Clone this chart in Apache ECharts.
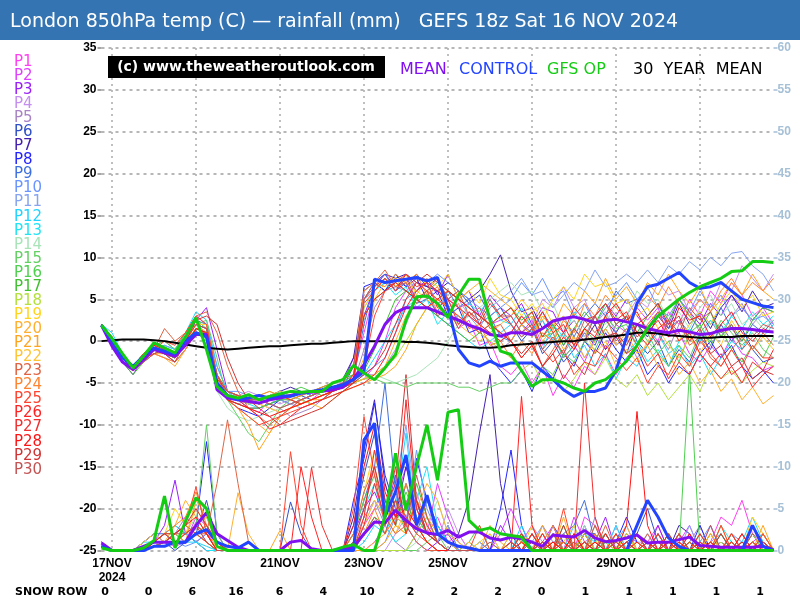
<!DOCTYPE html>
<html><head><meta charset="utf-8">
<script src="https://cdn.jsdelivr.net/npm/echarts@6/dist/echarts.min.js"></script>
<style>html,body{margin:0;padding:0;background:#fff}#c{width:800px;height:600px}</style>
</head><body><div id="c"></div>
<script>
// ---- data (6-hourly steps from 16 NOV 18z to 2 DEC 18z) ----
const titleText = 'London 850hPa temp (C) \u2014 rainfall (mm)   GEFS 18z Sat 16 NOV 2024';
const tickLabels = {1:'17NOV\n2024', 9:'19NOV', 17:'21NOV', 25:'23NOV', 33:'25NOV', 41:'27NOV', 49:'29NOV', 57:'1DEC'};
const stepCount = 65;
const snowRow = [0,0,6,16,6,4,10,2,2,2,0,1,1,1,1,1];
const memberNames = ['P1','P2','P3','P4','P5','P6','P7','P8','P9','P10','P11','P12','P13','P14','P15','P16','P17','P18','P19','P20','P21','P22','P23','P24','P25','P26','P27','P28','P29','P30'];
const memberColors = ['#ff40f0','#e040ff','#9a20f8','#c490f0','#a884c4','#3050c8','#4420b0','#2424ff','#4070e0','#6a94ff','#86a4f0','#20d4ff','#20e4f4','#a8e4b8','#64d064','#50d050','#40c030','#b4e040','#ffd420','#ffb030','#ffa420','#ffc434','#e06444','#ff8430','#ff4430','#ff2424','#f03030','#ff1414','#d03434','#c45454'];

const t01=[2,0.5,-2,-3,-1.5,-0.5,-1,-2,0,2,1.5,-5,-7, -7.5,-8,-8.5,-7,-6.5,-7,-7.5,-7,-6,-5.5,-5,-4,1, 6,7.5,6,7,5,6,3.5,4,1.5,2.5,-0.5,0,-3, -4,-2.5,-5,-3,-6.5,-4,-5.5,-3,-4,-1.5,-4,-2,-0.5, 1.5,0,3.5,2,5,3,6,4.5,7,5.5,3,4,2];
const t02=[2,0,-2.5,-3.5,-2.5,-1,-0.5,-1,1,3,2,-3,-6, -7,-7,-7.5,-8,-8.5,-8,-7,-6.5,-6,-6,-5.5,-5,-4.5, -3,0,4,6,7,6.5,6,5,4,4.5,3,2,2.5, 3,1,2.5,-0.5,1,-2,-0.5,-2.5,0.5,-1,2,1,4, 2.5,4,0.5,1,-1.5,-2.5,-0.5,-2,0.5,-1.5,-2,-3.5,-3];
const t03=[2,-0.5,-2.5,-4,-2,-1,-1.5,-2,-0.5,2.5,4,-1,-6, -7,-8,-8,-7.5,-7,-6.5,-6,-6.5,-6,-5.5,-5,-2,3, 6.5,8,6.5,7.5,6,7.5,5.5,8,5,6,3,5.5,4, 3,4.5,2,4,3.5,1,2.5,0.5,3,4.5,3,5,3, 1.5,3.5,2,5,3.5,2,4.5,3,5.5,4,2.5,4,3.5];
const t04=[2,0,-2,-3,-2.5,-1.5,-2,-2.5,-1,1,0,-5,-6.5, -6.5,-6,-6.5,-7,-7.5,-7,-6.5,-6,-5.5,-5,-5,-4.5,-4, -4,-3,-1,2,5,6,7,6,5,3,2,1,0, 1,3,2,5,4,6.5,4,5,2,3.5,1,3,5, 4,7,5.5,6,3.5,5,4,7,6,9,7.5,6,8];
const t05=[2,0.5,-1.5,-3,-2,-0.5,0,-1,0.5,2,1,-4.5,-7, -7.5,-7,-7,-7.5,-8,-9,-8.5,-8,-7,-6,-5.5,-5,-1, 4,6,6.5,6,5,4,3,2,3,2,1,0,-1, 0,2,0.5,2.5,0,-1.5,0.5,-2,0,1.5,-0.5,0.5,-2, -0.5,1,-1,2,3.5,1,2.5,0.5,3,4.5,2,3.5,1.5];
const t06=[2,0,-2,-3.5,-2,-1,-1.5,-2.5,-1,1,0.5,-5,-6, -6.5,-7,-7.5,-7,-6.5,-6,-6.5,-7,-6.5,-6,-5.5,-3,5, 7,6,8,6.5,8,6.5,7.5,5,6,4.5,5.5,3,4, 2,0,1.5,-1.5,0,-2.5,-1,1,-0.5,2.5,1,3,0, -1.5,0,-3,-1,-2.5,0.5,-1,2,0,1.5,-1,-2.5,-2];
const t07=[2,0,-2,-3,-2,-1,-1.5,-2,-0.5,1.5,1,-4,-6.5, -7,-7.5,-7,-6.5,-6,-5.5,-6,-6.5,-6,-5,-4.5,-2,6, 7,8,7.5,8,7,6.5,6,7,6,5,6,8,10.3, 6,3.5,4,1.5,2,-0.5,1.5,0,2,-1,0.5,-1.5,2, 0.5,3,1.5,4.5,2,3.5,1.5,4,5.5,3.5,6,4,4.5];
const t08=[2,-0.5,-2.5,-3.5,-2.5,-1,-1.5,-2,0,2,1.5,-5.5,-7, -8,-8.5,-9,-8,-7,-7.5,-7,-6.5,-6,-6,-5.5,-5,6.5, 7,6,7.5,6.5,7.5,5,6,3,4,1,1.5,-2,-3.5, -5,-3.5,-6,-3,-4.5,-1.5,-3,0,-1.5,1,-1,-2.5,-1, -4,-2.5,-5,-3,-4,-1.5,0,-2,-0.5,-3,-4.5,-3.5,-5];
const t09=[2,0,-2,-3,-1.5,-0.5,-1,-1.5,0.5,2.5,2,-4,-6, -6.5,-7,-7,-6.5,-6,-6.5,-7,-7.5,-7,-6,-5,-4.5,2, 7,8,6,7,4.5,5,3.5,6,4,5,2,3,0.5, 0,2,1,3.5,1.5,3,0.5,3,4.5,3,6,4.5,5, 3,4.5,1.5,2.5,1,3.5,2,4,1.5,0,2,1,2.5];
const t10=[2,0.5,-2,-3.5,-2,-1,-1,-2,0,1.5,1,-5,-6, -6,-6.5,-7,-7.5,-8,-7.5,-7,-6.5,-6,-5.5,-5,-4.5,-4, -3,-2,1,5,6,7,8,7,6,5,4,3,4, 5,7,5.5,7.5,5,6,3,4.5,2,4,5.5,7,5, 6.5,4,3,5,3.5,6,4,5.5,3,4,2.5,3,2];
const t11=[2,0,-2,-3,-2,-1,-1.5,-2.5,-1,1,1,-5,-6.5, -7,-7.5,-7,-6.5,-7,-7.5,-8,-7.5,-7,-6,-5.5,-5,5, 6,7.5,6.5,8,6,7,4.5,5,2.5,3,1.5,4,5, 6,7.5,5.5,6,4,5.5,7,6,8.5,6.5,7,8,7, 8.5,7,9,8,9.5,8.5,10,9,10.5,10.7,9,8,6];
const t12=[2,1,-1.5,-3,-2,-1,-0.5,-1,1,3.5,2.5,-3,-6, -6.5,-7,-7.5,-7,-6,-6.5,-7,-7.5,-7,-6.5,-6,-5,-4, -2,0,2,4,5,4,3,2,1,0,-1,0,1, 2,4,1.5,2.5,0,1,-2,-0.5,-3,-1.5,-4.5,-2,-3, -0.5,1,-1.5,-0.5,-3,-1.5,-4,-2,0,-1,1.5,0.5,2];
const t13=[2,0,-2,-3.5,-2.5,-1.5,-1,-1.5,0,2,1.5,-4.5,-6, -7,-7.5,-8,-7.5,-7,-6.5,-6,-6.5,-6,-5.5,-5,-4,4, 6,7,5.5,6.5,4,5,2,3.5,2,4.5,3.5,5,2.5, 2,0.5,1.5,-1,2,0.5,3.5,1.5,3,0.5,1,-1.5,0, -2.5,-1,-3,0,1.5,0,2.5,1,3,1.5,3.5,2,3];
const t14=[2,0,-2,-3,-1.5,-0.5,-1,-2,-0.5,1,0,-6,-8, -9,-9.5,-9,-8.5,-8,-7.5,-7,-6.5,-6,-5.5,-5,-5,-4.5, -4,-4.5,-5,-4.5,-4,-3,-2,0,2,3,4,5,6, 7,5.5,6,3.5,4.5,1.5,2.5,0.5,3,2,4.5,3,6, 4.5,5,2.5,3.5,1.5,4,5.5,3,4.5,2,3,1.5,2.5];
const t15=[2,0,-2,-3.5,-2,-1,-1.5,-2,0,2,2.5,-2,-7, -9,-11,-12,-10,-8,-7,-7.5,-7,-6.5,-6,-5.5,-5,-4.5, -4.5,-5,-5,-5.5,-5,-5,-5,-5,-5.5,-5.5,-6,-5.5,-5, -5,-3.5,-5.5,-3,-4,-1.5,-2.5,0,-1,1.5,3,1,2, 0,-1.5,-3,-0.5,-2,1,0,2.5,1,-0.5,1,-1,-2];
const t16=[2,0.5,-1.5,-3,-1.5,-0.5,0,-1,1,2.5,1.5,-4,-6, -6.5,-7,-7.5,-7,-6.5,-6,-5.5,-6,-6.5,-6,-5,-4,3, 5,6,7,6,5,6,7,6,5,4,3,2,3, 4,2,3,0.5,1,-2,-0.5,1.5,0,3,1.5,2,-0.5, 1,-1.5,0,-2.5,1,2,-0.5,1.5,-1,-2.5,-0.5,-2,0.5];
const t17=[2,0,-2.5,-4,-2.5,-1,-1.5,-2,-0.5,1.5,1,-5,-7, -7.5,-8,-8,-7.5,-7,-7,-6.5,-6,-5.5,-5,-4.5,-4,-3.5, -1,2,5,6,5,4,3,2,1,0,1,2,3, 4,2.5,3.5,0.5,2,-0.5,1.5,3.5,2,4.5,2,3,1, 3,4.5,2.5,5,3,1.5,3.5,0.5,2,0,2.5,4,3.5];
const t18=[2,0,-2,-3,-2,-1,-1,-1.5,0,1.5,1,-5,-6.5, -7,-7,-6.5,-6,-6.5,-7,-7.5,-7,-6.5,-6,-5.5,-5,-4.5, -4,-3,-2,0,2,4,5,4,3,2,1,0,-1, -2,-3.5,-2.5,-5,-4,-6,-4.5,-2.5,-4,-2,-4.5,-5.5,-4, -6.5,-5,-7,-5.5,-4,-6,-3,-4.5,-3.5,-5,-3.5,-2.5,-3];
const t19=[2,0.5,-2,-3,-1.5,-0.5,-1,-2,0,2,2,-4,-6, -6.5,-7,-7.5,-8,-8.5,-8,-7.5,-7,-6.5,-6,-5.5,-4,4, 6,7.5,6.5,8,5.5,7.5,6.5,8,5,6,4.5,7.5,5.5, 5,3,4.5,2.5,5,6.5,5,8,6.5,7,4.5,5,3, 4,1.5,2.5,0,2,3.5,2,4.5,6,4,5.5,3,3.5];
const t20=[2,0,-2.5,-3.5,-2,-1.5,-2,-3,-1,1,0.5,-5,-7, -8,-9,-10,-11,-9,-8,-7.5,-7,-6.5,-6,-5.5,-5,-4.5, -4,-3,0,3,5,6,5,4,5,6,7,6,5, 4,2,3,0,1.5,-1,0.5,-2,0,1.5,-0.5,1,-1.5, -0.5,-3,-1.5,-4,-2.5,-5,-3.5,-6,-4.5,-7,-5.5,-7.5,-6.5];
const t21=[2,0,-2,-3,-2,-1.5,-1.5,-2,-0.5,1,0.5,-5.5,-7, -8,-10,-13,-11,-9,-8,-7.5,-7,-7,-6.5,-6,-5.5,-5, -4.5,-4,-3,-1,2,4,5,6,5,4,3,2,1, 0,2,0.5,3,1.5,4.5,3,6,4.5,7.5,5,6.5,4.5, 7,5.5,8,6,4.5,6.5,3.5,5,7,5.5,8,6,5];
const t22=[2,0.5,-1.5,-3,-2,-1,-1,-1.5,0,2,1,-4.5,-6.5, -7,-7.5,-7,-6.5,-6,-6.5,-7,-7.5,-8,-7,-6,-5,-2, 5,7,7.5,7,6,5,4,3,2,1,0,1,2, 3,5,3.5,4.5,2,3,0,1.5,-1.5,0,-3,-1,-2.5, 0,1.5,-0.5,-2,0.5,-1.5,1,-0.5,2.5,0.5,-1,0.5,-1];
const t23=[2,0,-2,-3.5,-2,-1,1.5,0,1,3,3.5,1,-3, -6,-8,-9,-10,-9,-8,-7,-6.5,-6,-5.5,-5,-4.5,5, 7,8.5,6.5,7,4.5,6,7.5,5,6,3,4,1.5,2, 0,-2,-0.5,-3,-1,1,-0.5,2.5,1,3,0,1.5,-0.5, 2,3.5,1,2.5,-0.5,0.5,-2,-3,-1,0.5,-1,1,-0.5];
const t24=[2,0,-2.5,-3.5,-2.5,-1.5,-2,-2.5,-1,1,1,-5,-6, -6.5,-7,-6.5,-6,-6.5,-7,-6.5,-6,-5.5,-5,-4.5,-3,6, 7,6.5,8,7,8,5.5,6.5,3.5,4.5,1.5,2,-0.5,0, -2,0,-1.5,1,0,2.5,1,4.5,3,5.5,4,2.5,4, 5.5,4,6.5,4.5,3,5,3.5,6,7.5,5.5,7,6,7.5];
const t25=[2,0.5,-2,-3,-2,-1,0,-0.5,1,3,2,-4,-7, -8,-9,-10,-9.5,-9,-8.5,-8,-7.5,-7,-6,-5.5,-5,-3, 3,6,7,8,7,6,5,4,3,2,1,2,3, 2,0.5,1.5,-1,-2.5,-1,-4,-2.5,-3,-0.5,-2,-3.5,-2, -5,-3,-4,-1.5,-3,0,-1.5,-3,-1,-3,-0.5,-2,-2];
const t26=[2,0,-2,-3.5,-2,-1,-1,-2,-0.5,1.5,1,-5,-6.5, -7,-8,-9,-10.5,-10,-9,-8,-7.5,-7,-6.5,-6,-5.5,-5, -4,-2,1,4,6,7,6,5,4,3,2,1,0, 1,3,1.5,3.5,1,2,-0.5,1.5,3,4.5,2.5,3.5,1, -0.5,1.5,2.5,0,1,-1.5,-3,-1.5,-4,-3,-5.5,-4,-3];
const t27=[2,0,-2.5,-3.5,-2,-1.5,-1,-2,0,2,1.5,-4.5,-6, -6.5,-7,-7.5,-7,-6.5,-7,-7.5,-7,-6.5,-6,-5.5,-5,4.5, 6,7.5,6,8,6.5,7,4,5,2,3.5,2,4.5,3, 4,2,3.5,0.5,2.5,1,4,2.5,3,0.5,1,-1.5,-0.5, -3,-1.5,-4.5,-2.5,-4,-1.5,-3,-4.5,-3,-5,-2.5,-3.5,-1];
const t28=[2,0,-2,-3,-1.5,-0.5,-1,-2,-0.5,1.5,1,-5,-7, -7.5,-8,-8.5,-9,-8.5,-8,-7.5,-7,-6.5,-6,-5.5,-4,3, 5,6,7,6,5,4,5,6,5,4,3,2,1, 0,-2,-0.5,-3,-1.5,0.5,-1,1.5,0.5,3,4.5,2.5,3.5, 1,2.5,0.5,4,2.5,3,0.5,2,3.5,1,0,1.5,1];
const t29=[2,0,-2,-3,-2,-1,-1.5,-2.5,0,2.5,3,2,-2, -5,-7,-8,-9,-10,-9.5,-9,-8.5,-8,-7,-6,-5,-4, -3,-1,2,5,7,8,7,6,5,4,3,2,1, 0,-1.5,0,-3,-1.5,-4.5,-2.5,-4,-1,-2,1,-0.5,2, 3,4.5,2,3,0,1.5,-1.5,-0.5,-3,-2,-4.5,-3.5,-4];
const t30=[2,0,-2,-3.5,-2.5,-1.5,-1,-2,-0.5,1,1,-4,-6, -6.5,-7,-7,-7.5,-8,-7.5,-7,-6.5,-6,-5.5,-5,-3,5, 6.5,7.5,6,7.5,5,6,3,4,1.5,3.5,2.5,5,3, 3,1,2,-1,0.5,-1.5,1.5,0,3,4.5,2,3,0.5, 1.5,-0.5,2.5,1,4,2.5,3.5,1,2,-1,0.5,2,1.5];

const r01=[1,0,0,0,0.5,1,2,1,2,3,2,0.5,0, 0,0,0,0,0,0,0,0,0,0,0,1,3, 5,8,4,6,3,2,4,1,2,0,0,1,0, 0,1,3,0,2,1,0,4,3,1,0,2,0, 1,3,0,0,2,0,1,4,3,6,2,0,0];
const r02=[0.5,0,0,0,1,2,1,0.5,1,4,3,1,0, 0,0,0,0,0,0,0,0,0,0,0,0,0, 1,3,6,10,5,2,8,4,1,0,0,0,2, 5,2,0,1,3,0,4,1,0,2,0,2,0, 0,2,0,1,3,0,1,0,2,0,1,2,0];
const r03=[1,0,0,0,0,1,3,8.4,2,1,2,0,0, 0,0,0,0,0,0,0,0,0,0,0,2,5, 7,4,9,3,1,0,1,2,0,0,0,0,3, 1,0,2,0,2,0,1,0,1,4,0,2,1, 0,3,0,1,0,2,0,1,0,1,0,2,0];
const r04=[0.5,0,0,0,0,0.5,1,2,3,2,1,0,0, 0,0,0,0,0,0,0,0,0,0,0,0,0, 0,0,2,4,7,3,1,5,2,0,0,0,0, 0,1,3,1,0,2,0,1,2,0,3,0,1, 1,0,2,0,1,0,3,0,1,0,0,1,0];
const r05=[1,0,0,0,0.5,1,1,2,4,3,1,0,0, 0,0,0,0,0,0,0,0,0,0,0,1,4, 6,3,1,0,2,4,1,0,0,1,0,0,0, 0,2,0,3,1,0,2,0,4,0,2,0,1, 0,2,0,0,1,3,0,1,0,2,0,1,0];
const r06=[0.5,0,0,0,1,2,1,0,1,2,6,1,0, 0,0,0,0,0,5.8,2,0,0,0,0,3,9, 14,6,3,8,4,2,1,3,0,0,0,0,0, 0,0,2,0,1,1,0,3,0,2,0,1,2, 5,1,0,2,0,1,0,0,2,0,1,0,0];
const r07=[0.5,0,0,0,0,1,2,3,2,1,0,0,0, 0,0,0,0,0,0,0,0,0,0,0,4,12, 18,8,4,10,6,2,1,0,2,6,14,21,8, 2,0,1,0,3,1,0,2,0,1,1,0,2, 0,1,0,3,2,0,1,0,1,0,2,0,0];
const r08=[0.5,0,0,0,0,0.5,1,1,2,3,13,2,0, 0,0,0,0,0,0,0,0,0,0,0,6,11, 17.6,9,5,3,11,6,3,1,0,0,0,0,5, 12,3,0,2,0,1,0,2,2,0,1,4,1, 0,2,0,1,0,3,0,1,0,0,3,1,0];
const r09=[1,0,0,0,1,2,2,1,1,2,3,1,0, 0,0,0,0,0,0,0,0,0,0,0,2,6, 10,20,7,4,2,6,3,1,0,0,1,0,0, 0,2,0,1,0,2,3,6,1,0,2,0,1, 0,0,2,0,1,0,2,0,1,0,2,0,0];
const r10=[0.5,0,0,0,0,1,2,1,0.5,1,2,0,0, 0,0,0,0,0,0,0,0,0,0,0,0,0, 0,1,4,3,12,5,2,1,0,0,0,0,0, 0,2,1,0,3,0,1,0,2,0,1,3,0, 1,0,2,0,0,1,3,0,2,1,0,1,0];
const r11=[1,0,0,0,0,0.5,1,2,1,3,4,1,0, 0,0,0,0,0,0,0,0,0,0,0,0,3, 6,4,8,15,5,2,1,3,0,0,0,2,0, 0,1,1,3,0,2,0,1,0,2,0,1,0, 2,0,1,0,3,0,1,2,0,1,0,0,0];
const r12=[0.5,0,0,0,0,1,1,2,1,1,0.5,0,0, 0,0,0,0,0,0,0,0,0,0,0,0,1, 3,2,5,14,3,1,0,0,0,1,0,0,0, 0,3,0,1,0,2,0,2,1,0,3,0,1, 0,1,0,2,0,1,0,2,0,1,4,1,0];
const r13=[0.5,0,0,0,1,1,2,3,2,1,0,0,0, 0,0,0,0,0,0,0,0,0,0,0,1,5, 8,3,1,2,6,10,3,1,0,0,0,1,0, 1,0,2,0,1,0,3,0,1,0,2,0,1, 0,2,0,1,0,2,0,3,1,0,1,0,0];
const r14=[1,0,0,0,0,0.5,1,1,2,4,2,0,0, 0,0,0,0,0,0,0,0,0,0,0,0,0, 0,0,0,0,1,3,6,2,1,0,0,0,0, 2,1,0,2,0,1,0,3,0,1,0,2,0, 1,0,2,0,1,0,1,0,2,0,1,0,0];
const r15=[0.5,0,0,0,0,1,2,1,1,3,15,2,0, 0,0,0,0,0,0,0,0,0,0,0,0,0, 0,0,0,0,0,1,2,0,0,0,0,0,0, 0,1,0,0,2,0,1,0,1,2,0,1,0, 0,1,0,2,0,0,1,0,1,0,0,1,0];
const r16=[0.5,0,0,0,0,0.5,1,2,1,2,3,1,0, 0,0,0,0,0,0,0,0,0,0,0,2,6, 9,5,3,7,4,2,1,0,0,1,3,0,0, 0,1,1,0,2,0,1,0,2,0,1,0,2, 0,1,0,0,21.4,0,2,0,1,0,1,0,0];
const r17=[1,0,0,0,0,1,1,2,3,2,1,0,0, 0,0,0,0,0,0,0,0,0,0,0,1,2, 4,3,6,2,8,4,1,0,0,0,0,0,0, 0,2,0,1,0,3,0,2,0,1,0,2,0, 1,0,2,0,1,0,0,2,0,1,0,2,0];
const r18=[0.5,0,0,0,0,0.5,1,1,2,3,2,0,0, 0,0,0,0,0,0,0,0,0,0,0,0,0, 0,0,0,0,2,4,1,0,0,0,0,0,0, 0,1,0,2,0,0,1,0,3,0,1,0,2, 0,1,0,1,0,2,0,1,0,0,2,0,0];
const r19=[0.5,0,0,0,0,1,2,5,3,2,1,0,0, 0,0,0,0,0,0,0,0,0,0,0,2,7, 12,5,3,2,6,3,1,0,0,0,1,2,0, 1,0,3,0,1,0,2,0,1,1,0,2,0, 1,0,2,0,1,0,2,0,1,0,4,2,0];
const r20=[1,0,0,0,0,0.5,1,3,6,4,2,0,0, 6.9,2,0,0,0,0,0,0,0,0,0,0,0, 1,2,4,3,5,8,6,2,1,0,0,3,1, 0,2,0,1,0,4,0,1,0,2,0,3,0, 1,0,0,2,0,1,0,3,0,1,0,2,0];
const r21=[0.5,0,0,0,0,1,2,2,1,6,4,1,0, 0,0,0,0,2.4,0,0,0,0,0,0,0,0, 0,1,3,2,6,4,2,1,0,0,0,0,0, 2,1,0,3,0,1,0,2,0,0,2,0,1, 0,2,0,1,0,0,2,0,1,0,0,3,0];
const r22=[0.5,0,0,0,1,2,1,1,2,5,3,0,0, 0,0,0,0,0,0,0,0,0,0,0,1,3, 6,4,2,5,3,1,0,0,0,1,0,0,0, 0,1,0,2,0,1,3,0,1,0,2,0,1, 0,1,0,2,0,0,1,0,2,0,1,0,0];
const r23=[0.5,0,0,0,0,1,1,2,3,2,2,8,15.6, 8,1,0,0,0,0,0,0,0,0,0,2,7, 10,4,2,3,1,0,0,0,0,0,0,1,0, 0,2,0,1,0,2,0,1,0,3,0,1,0, 2,0,1,0,2,0,1,0,0,2,0,1,0];
const r24=[1,0,0,0,0,1,2,3,4,7,3,1,0, 0,0,0,0,0,0,0,0,0,0,0,0,2, 5,2,4,8,3,1,0,0,0,0,0,0,0, 1,0,2,0,3,0,1,0,2,0,1,0,2, 0,1,0,2,0,1,0,0,2,0,1,0,0];
const r25=[0.5,0,0,0,0,1,1,2,3,7.6,2,1,0, 0,0,0,0,0,11.8,3,0,0,0,0,5,16, 9,3,6,4,2,1,0,0,0,0,3,0,0, 0,1,0,2,0,5,0,1,0,2,0,1,0, 1,0,2,0,0,1,0,3,0,1,0,2,0];
const r26=[0.5,0,0,0,0,0.5,1,1,2,3,2,0,0, 0,0,0,0,0,0,10,4,0,0,0,0,4, 12,6,3,18,5,2,1,0,0,0,0,0,0, 0,18.4,3,0,1,0,2,0,1,0,2,0,1, 0,2,0,1,0,2,0,0,1,0,0,1,0];
const r27=[0.5,0,0,0,0,1,2,1,1,2,1,0,0, 0,0,0,0,0,0,0,9.9,3,0,0,0,3, 8,4,10,2,6,3,1,0,0,0,0,0,0, 0,1,0,2,0,1,0,20,4,0,1,0,2, 0,1,0,2,0,1,0,0,2,0,1,0,0];
const r28=[1,0,0,0,0,1,1,2,3,4,2,0,0, 0,0,0,0,0,0,0,0,0,0,0,3,10, 15,7,4,5,3,1,0,0,0,0,0,0,0, 1,0,2,0,1,0,2,0,1,0,0,3,16.6, 3,0,1,0,2,0,1,0,0,2,0,1,0];
const r29=[0.5,0,0,0,0,1,2,2,3,5,3,1,0, 0,0,0,0,0,0,0,0,0,0,0,1,5, 10,5,8,21,6,2,1,0,0,0,0,0,0, 0,2,0,1,0,3,0,1,0,2,0,1,0, 1,0,2,0,1,0,0,2,0,1,0,0,0];
const r30=[0.5,0,0,0,0,0.5,1,2,2,3,1,0,0, 0,0,0,0,0,0,0,0,0,0,0,0,2, 4,2,6,3,9,4,1,0,0,0,0,0,0, 1,0,1,0,2,0,1,0,3,0,1,0,2, 0,1,0,2,0,0,3,0,1,0,2,1,0];

const meanTemp=[1.9,-0.6,-2.5,-3.4,-2.2,-1.0,-1.4,-1.8,-0.5,0.8,0.8,-5.8,-6.8, -7.0,-7.2,-7.4,-7.0,-6.8,-6.5,-6.2,-6.1,-6.0,-5.8,-5.5,-4.5,-2.8, -0.6,2.0,3.4,4.0,4.0,4.0,3.5,3.0,2.5,1.9,1.5,0.8,0.6, 1.0,1.0,0.8,1.5,2.4,2.7,2.9,2.6,2.2,2.5,2.6,2.3,2.0, 1.5,1.2,1.0,1.3,1.1,0.8,0.9,1.3,1.5,1.5,1.4,1.2,1.1];
const controlTemp=[1.9,0.0,-2.0,-3.0,-1.8,-0.8,-1.2,-1.5,0.0,1.0,0.5,-5.0,-6.5, -7.0,-6.8,-6.5,-6.8,-6.5,-6.6,-6.2,-6.0,-5.8,-5.5,-5.2,-4.6,-3.6, 7.4,7.0,7.2,7.4,7.6,7.2,7.6,4.0,-1.0,-2.6,-3.0,-2.4,-3.0, -2.6,-2.6,-2.6,-3.6,-4.6,-5.8,-6.6,-6.0,-6.0,-5.6,-3.5,0.5,4.5, 6.5,6.8,7.5,8.2,7.0,6.3,6.5,7.0,6.0,5.0,4.6,4.2,4.0];
const opTemp=[1.9,0.3,-1.5,-3.2,-1.8,-0.2,-0.8,-1.4,0.5,2.8,-1.0,-5.4,-6.5, -6.8,-6.4,-7.0,-6.6,-6.3,-6.0,-6.1,-6.0,-6.0,-5.0,-4.6,-2.9,-3.8, -4.6,-3.2,-1.6,2.5,5.3,5.4,4.5,2.8,5.5,7.4,7.4,2.5,-1.2, -1.6,-3.5,-5.4,-4.6,-4.6,-5.0,-5.6,-6.0,-5.0,-4.6,-3.6,-2.4,-0.5, 1.5,3.0,4.0,5.0,5.8,6.5,7.0,7.5,8.3,8.4,9.5,9.5,9.4];
const climTemp=[0,0.1,0.2,0.2,0.2,0.1,0,-0.2,-0.4,-0.6,-0.8,-0.9,-1.0, -0.9,-0.8,-0.7,-0.6,-0.6,-0.5,-0.4,-0.3,-0.3,-0.2,-0.1,0,0, 0,0,0,-0.1,-0.1,-0.2,-0.3,-0.5,-0.6,-0.7,-0.8,-0.8,-0.7, -0.5,-0.4,-0.3,-0.2,-0.1,0,0,0.2,0.3,0.5,0.6,0.8,1.0, 1.0,0.9,0.7,0.6,0.5,0.4,0.4,0.5,0.5,0.6,0.6,0.6,0.6];
const meanRain=[0.9,0,0,0,0.5,1.0,1.0,1.0,1.0,3.0,4.5,2.0,1.2, 0.4,0,0,0,0,1.0,1.2,0.2,0,0,0.2,0.4,2.0, 3.4,3.3,4.8,3.6,2.6,2.1,1.9,2.4,1.6,2.2,2.2,1.5,1.25, 1.6,1.4,1.0,0.5,1.85,1.7,1.6,2.4,1.5,1.05,1.2,1.5,1.85, 0.9,1.0,1.0,1.3,1.6,0.6,0.5,0.4,0.4,0.4,0.4,0.5,0.1];
const controlRain=[0.5,0,0,0,0,0.5,0.5,1,1,2,2.5,1,0.5, 0.3,1.0,0,0,0,0,0,0,0,0,0,0,13.2, 15.2,4,7,11.4,3,6.6,2,1,0.5,0.3,0,0,0, 0,0,0,0,0,0,0,0,0,0,0,0,3, 6,4,1.5,0.5,0,0,0,0,0,0,3,0.5,0];
const opRain=[0.3,0,0,0,0.3,1.2,6.5,0.3,3.5,6.3,5.0,0.5,0, 0,0,0,0,0,0,0,0,0,0,0.4,0.7,0, 0,4,11.6,4.8,10,15.0,8.4,16.5,16.8,3.6,2.4,2.7,2.0, 1.8,1.6,0,0,0,0,0,0,0,0,0,0,0, 0,0,0,0,0,0,0,0,0,0,0,0,0];

const memberTemp=[t01,t02,t03,t04,t05,t06,t07,t08,t09,t10,t11,t12,t13,t14,t15,t16,t17,t18,t19,t20,t21,t22,t23,t24,t25,t26,t27,t28,t29,t30];
const memberRain=[r01,r02,r03,r04,r05,r06,r07,r08,r09,r10,r11,r12,r13,r14,r15,r16,r17,r18,r19,r20,r21,r22,r23,r24,r25,r26,r27,r28,r29,r30];

// ---- chart ----
const chart = echarts.init(document.getElementById('c'), null, {renderer:'canvas'});
const cats = [];
for (let i = 0; i < stepCount; i++) cats.push(tickLabels[i] !== undefined ? tickLabels[i] : '');
const isTick = (i) => tickLabels[i] !== undefined;

const series = [];
memberRain.forEach((d, k) => series.push({name:memberNames[k]+' rain', type:'line', yAxisIndex:1, data:d, showSymbol:false, silent:true, lineStyle:{width:1, color:memberColors[k]}, z:2}));
memberTemp.forEach((d, k) => series.push({name:memberNames[k], type:'line', yAxisIndex:0, data:d, showSymbol:false, silent:true, lineStyle:{width:1, color:memberColors[k]}, z:2}));
const thick = (name, data, axis, color, w) => ({name, type:'line', yAxisIndex:axis, data, showSymbol:false, silent:true, lineStyle:{width:w, color}, z:3});
series.push(thick('MEAN rain', meanRain, 1, '#8010f0', 3));
series.push(thick('CONTROL rain', controlRain, 1, '#2244ff', 3));
series.push(thick('GFS OP rain', opRain, 1, '#14cc14', 3));
series.push(thick('30 YEAR MEAN', climTemp, 0, '#000000', 2));
series.push(thick('MEAN', meanTemp, 0, '#8010f0', 3));
series.push(thick('CONTROL', controlTemp, 0, '#2244ff', 3));
series.push(thick('GFS OP', opTemp, 0, '#14cc14', 3));

const graphics = [
  {type:'rect', shape:{x:0, y:0, width:800, height:40}, style:{fill:'#3574b2'}, z:10},
  {type:'text', x:10, y:22, style:{text:titleText, fill:'#fff', font:'19px "DejaVu Sans"', textVerticalAlign:'middle'}, z:11},
  {type:'rect', shape:{x:108, y:56, width:277, height:22}, style:{fill:'#000'}, z:10},
  {type:'text', x:246, y:67, style:{text:'(c) www.theweatheroutlook.com', fill:'#fff', font:'bold 14px "DejaVu Sans"', textAlign:'center', textVerticalAlign:'middle'}, z:11},
  {type:'text', x:400, y:70, style:{text:'MEAN', fill:'#8010f0', font:'16px "DejaVu Sans"', textVerticalAlign:'middle'}, z:11},
  {type:'text', x:459, y:70, style:{text:'CONTROL', fill:'#2244ff', font:'16px "DejaVu Sans"', textVerticalAlign:'middle'}, z:11},
  {type:'text', x:547, y:70, style:{text:'GFS OP', fill:'#14cc14', font:'16px "DejaVu Sans"', textVerticalAlign:'middle'}, z:11},
  {type:'text', x:633, y:70, style:{text:'30  YEAR  MEAN', fill:'#000', font:'16px "DejaVu Sans"', textVerticalAlign:'middle'}, z:11},
  {type:'text', x:15, y:592, style:{text:'SNOW ROW', fill:'#000', font:'bold 11px "DejaVu Sans"', textVerticalAlign:'middle'}, z:11}
];
memberNames.forEach((n, k) => graphics.push({type:'text', x:14, y:62 + k*14.06, style:{text:n, fill:memberColors[k], font:'15px "DejaVu Sans"', textVerticalAlign:'middle'}, z:11}));
snowRow.forEach((v, k) => graphics.push({type:'text', x:105 + k*43.67, y:592, style:{text:String(v), fill:'#000', font:'bold 11px "DejaVu Sans"', textAlign:'center', textVerticalAlign:'middle'}, z:11}));

chart.setOption({
  animation:false,
  backgroundColor:'#ffffff',
  grid:{left:101.5, right:26.5, top:48, bottom:49.5, containLabel:false},
  xAxis:{type:'category', boundaryGap:false, data:cats,
    axisLine:{show:false}, axisTick:{show:false},
    axisLabel:{interval:(i)=>isTick(i), color:'#000', fontWeight:'bold', fontSize:12, fontFamily:'Liberation Sans', margin:6, lineHeight:14},
    splitLine:{show:true, interval:(i)=>isTick(i), lineStyle:{color:'#aaaaaa', type:[2,4], width:1.5}}},
  yAxis:[
    {type:'value', min:-25, max:35, interval:5, position:'left',
     axisLine:{show:false}, axisTick:{show:true, length:4, lineStyle:{color:'#888', width:1.5}},
     axisLabel:{color:'#000', fontWeight:'bold', fontSize:12, fontFamily:'Liberation Sans', margin:5},
     splitLine:{show:true, lineStyle:{color:'#a0a0a0', type:[3,4], width:1.5}}},
    {type:'value', min:0, max:60, interval:5, position:'right',
     axisLine:{show:false}, axisTick:{show:true, length:4, lineStyle:{color:'#a6c0d6', width:1.5}},
     axisLabel:{color:'#a6c0d6', fontWeight:'bold', fontSize:12, fontFamily:'Liberation Sans', margin:4},
     splitLine:{show:false}}
  ],
  series:series,
  graphic:graphics
});
</script></body></html>
